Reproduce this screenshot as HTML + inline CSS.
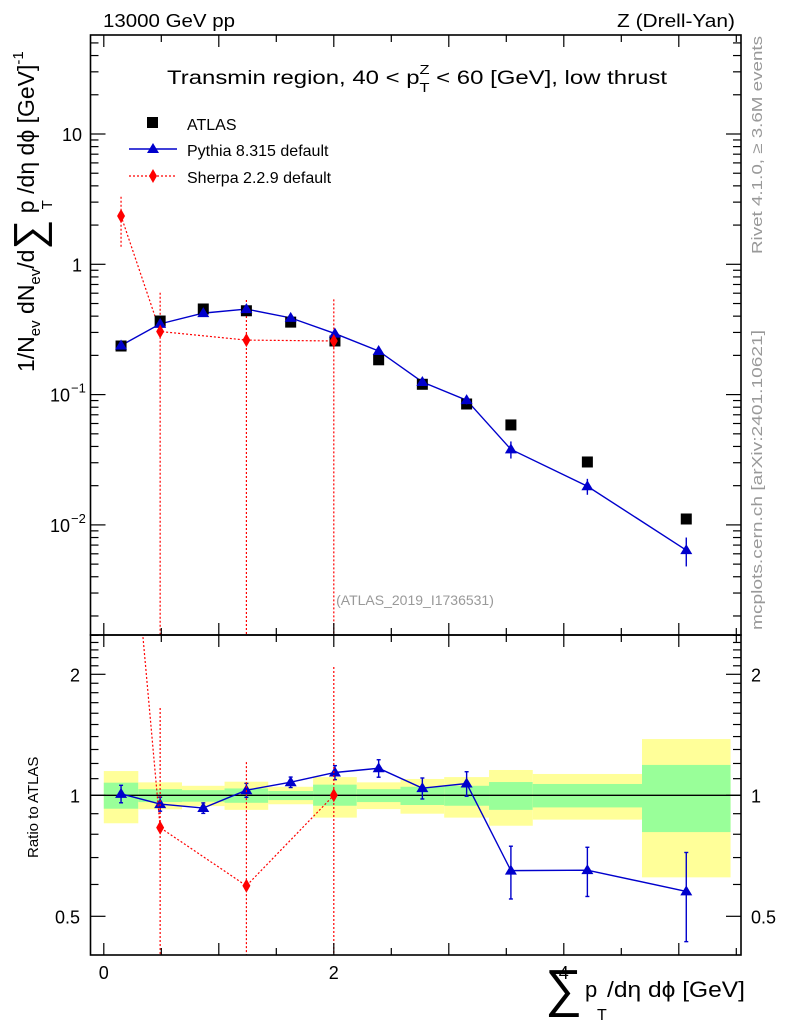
<!DOCTYPE html>
<html><head><meta charset="utf-8"><style>
html,body{margin:0;padding:0;background:#fff}
svg{display:block;font-family:"Liberation Sans",Arial,sans-serif}
</style></head><body>
<svg id="c" width="786" height="1024" viewBox="0 0 786 1024">
<g id="bands"></g>
<g id="marks"></g>
<g id="axes"></g>
<text x="103" y="27" font-size="18" textLength="132" lengthAdjust="spacingAndGlyphs">13000 GeV pp</text>
<text x="735" y="27" font-size="18" text-anchor="end" textLength="118" lengthAdjust="spacingAndGlyphs">Z (Drell-Yan)</text>
<text x="167" y="84" font-size="19" textLength="500" lengthAdjust="spacingAndGlyphs">Transmin region, 40 &lt; p<tspan font-size="13" dy="-10">Z</tspan><tspan font-size="13" dx="-8" dy="18">T</tspan><tspan dy="-8"> &lt; 60 [GeV], low thrust</tspan></text>
<text x="415" y="605" font-size="14" fill="#999" text-anchor="middle">(ATLAS_2019_I1736531)</text>
<text transform="translate(762,254) rotate(-90)" font-size="15" fill="#999" textLength="218" lengthAdjust="spacingAndGlyphs">Rivet 4.1.0, ≥ 3.6M events</text>
<text transform="translate(762,630) rotate(-90)" font-size="15" fill="#999" textLength="300" lengthAdjust="spacingAndGlyphs">mcplots.cern.ch [arXiv:2401.10621]</text>
<g transform="translate(34,372) rotate(-90)" font-size="23">
<text x="0" y="0">1/N<tspan font-size="15" dy="6">ev</tspan><tspan dy="-6"> dN</tspan><tspan font-size="15" dy="6">ev</tspan><tspan dy="-6">/d</tspan><tspan font-size="42" dy="9">∑</tspan><tspan dy="-9"> p</tspan><tspan font-size="15" dx="-9" dy="18">T</tspan><tspan dy="-18"> /dη dϕ  [GeV]</tspan><tspan font-size="15" dy="-11">-1</tspan></text>
</g>
<text transform="translate(38,858) rotate(-90)" font-size="15">Ratio to ATLAS</text>
<g>
<text x="545" y="1006" font-size="52">∑</text>
<text x="585" y="997" font-size="22">p</text>
<text x="597" y="1020" font-size="16">T</text>
<text x="607" y="997" font-size="22" textLength="138" lengthAdjust="spacingAndGlyphs">/dη dϕ [GeV]</text>
</g>
<g font-size="16">
<rect x="147" y="117" width="11" height="11" fill="#000"/>
<text x="187" y="130">ATLAS</text>
<line x1="129" y1="149" x2="177" y2="149" stroke="#00c" stroke-width="1.5"/>
<polygon points="153,143 159,153 147,153" fill="#00c"/>
<text x="187" y="156">Pythia 8.315 default</text>
<line x1="129" y1="176" x2="177" y2="176" stroke="#f00" stroke-width="1.3" stroke-dasharray="2,2"/>
<polygon points="153,169 157,176 153,183 149,176" fill="#f00"/>
<text x="187" y="183">Sherpa 2.2.9 default</text>
</g>
</svg>
<script>
const binEdges=[0,0.3,0.68,1.05,1.43,1.82,2.2,2.58,2.96,3.35,3.73,4.68,5.45];
const atlasValues=[0.236,0.367,0.454,0.44,0.36,0.258,0.185,0.12,0.0847,0.0585,0.0304,0.0111];
const pythiaValues=[0.238,0.349,0.422,0.453,0.388,0.294,0.216,0.125,0.0906,0.038,0.0198,0.0064];
const pythiaRelErr=[0.05,0.04,0.03,0.04,0.03,0.04,0.05,0.06,0.07,0.15,0.14,0.25];
const sherpaX=[0.15,0.49,1.24,2.0];
const sherpaValues=[2.35,0.305,0.262,0.258];
const sherpaErrUp=[0.95,0.3,0.27,0.28];
const sherpaErrDn=[1.02,0.305,0.262,0.258];
const bandYellowUp=[1.149,1.077,1.056,1.081,1.05,1.11,1.077,1.098,1.11,1.156,1.13,1.38];
const bandYellowDn=[0.852,0.923,0.94,0.92,0.95,0.88,0.924,0.9,0.88,0.84,0.87,0.625];
const bandGreenUp=[1.075,1.036,1.03,1.04,1.025,1.063,1.036,1.05,1.056,1.079,1.067,1.19];
const bandGreenDn=[0.926,0.962,0.964,0.958,0.973,0.942,0.962,0.946,0.942,0.92,0.933,0.81];
const xTickLabels=[0,2,4];
const mainTickLabels=[10,1,0.1,0.01];
const ratioTickLabels=[2,1,0.5];

const NS='http://www.w3.org/2000/svg';
const L=90.5,R=741,T=35,MB=635,RB=955;
const xs=u=>103.8+115*u;
const ym=v=>134-130.3*(Math.log10(v)-1);
const yr=r=>795.3-121*Math.log2(r);
function mk(parent,tag,attrs){const e=document.createElementNS(NS,tag);for(const k in attrs)e.setAttribute(k,attrs[k]);parent.appendChild(e);return e;}
const bands=document.getElementById('bands'),marks=document.getElementById('marks'),axes=document.getElementById('axes');
const cl=v=>Math.max(T,Math.min(MB,v));
const clr=v=>Math.max(MB,Math.min(RB,v));

for(let i=0;i<atlasValues.length;i++){
  const x0=xs(binEdges[i]),x1=xs(binEdges[i+1]);
  let r=mk(bands,'rect',{x:x0,y:yr(bandYellowUp[i]),width:x1-x0,height:yr(bandYellowDn[i])-yr(bandYellowUp[i]),fill:'#ffff99'});
  
  
  r=mk(bands,'rect',{x:x0,y:yr(bandGreenUp[i]),width:x1-x0,height:yr(bandGreenDn[i])-yr(bandGreenUp[i]),fill:'#99ff99'});
  
  
}
mk(bands,'line',{x1:L,x2:R,y1:yr(1),y2:yr(1),stroke:'#000','stroke-width':1.3});

const centers=atlasValues.map((v,i)=>(binEdges[i]+binEdges[i+1])/2);
let d='';
centers.forEach((c,i)=>{d+=(i?'L':'M')+xs(c)+','+ym(pythiaValues[i]);});
mk(marks,'path',{d:d,fill:'none',stroke:'#00c','stroke-width':1.4});
d='';
sherpaX.forEach((c,i)=>{d+=(i?'L':'M')+xs(c)+','+ym(sherpaValues[i]);});
mk(marks,'path',{d:d,fill:'none',stroke:'#f00','stroke-width':1.2,'stroke-dasharray':'2,2'});
sherpaX.forEach((c,i)=>{
  const lo=sherpaValues[i]-sherpaErrDn[i];
  const y2=lo>0?cl(ym(lo)):MB;
  mk(marks,'line',{x1:xs(c),x2:xs(c),y1:cl(ym(sherpaValues[i]+sherpaErrUp[i])),y2:y2,stroke:'#f00','stroke-width':1.2,'stroke-dasharray':'2,2'});
});
atlasValues.forEach((v,i)=>{
  const s=mk(marks,'rect',{x:xs(centers[i])-5.5,y:ym(v)-5.5,width:11,height:11,fill:'#000'});
  
  
});
pythiaValues.forEach((v,i)=>{
  const x=xs(centers[i]);
  mk(marks,'line',{x1:x,x2:x,y1:ym(v*(1+pythiaRelErr[i])),y2:ym(v*(1-pythiaRelErr[i])),stroke:'#00c','stroke-width':1.4});
  const y=ym(v);
  const p=mk(marks,'polygon',{points:`${x},${y-6} ${x+6},${y+4} ${x-6},${y+4}`,fill:'#00c'});
  
  
});
sherpaX.forEach((c,i)=>{
  const x=xs(c),y=ym(sherpaValues[i]);
  const p=mk(marks,'polygon',{points:`${x},${y-7} ${x+4},${y} ${x},${y+7} ${x-4},${y}`,fill:'#f00'});
  
  
});
d='';
centers.forEach((c,i)=>{d+=(i?'L':'M')+xs(c)+','+yr(pythiaValues[i]/atlasValues[i]);});
mk(marks,'path',{d:d,fill:'none',stroke:'#00c','stroke-width':1.4});
pythiaValues.forEach((v,i)=>{
  const x=xs(centers[i]),r=v/atlasValues[i];
  mk(marks,'line',{x1:x,x2:x,y1:yr(r*(1+pythiaRelErr[i])),y2:yr(r*(1-pythiaRelErr[i])),stroke:'#00c','stroke-width':1.4});
  mk(marks,'line',{x1:x-2,x2:x+2,y1:yr(r*(1+pythiaRelErr[i])),y2:yr(r*(1+pythiaRelErr[i])),stroke:'#00c','stroke-width':1.4});
  mk(marks,'line',{x1:x-2,x2:x+2,y1:yr(r*(1-pythiaRelErr[i])),y2:yr(r*(1-pythiaRelErr[i])),stroke:'#00c','stroke-width':1.4});
  const y=yr(r);
  const p=mk(marks,'polygon',{points:`${x},${y-6} ${x+6},${y+4} ${x-6},${y+4}`,fill:'#00c'});
  
  
});
const sIdx=sherpaX.map(c=>centers.findIndex(cc=>Math.abs(cc-c)<0.05));
const cp=mk(document.getElementById('c'),'clipPath',{id:'rclip'});
mk(cp,'rect',{x:L,y:MB,width:R-L,height:RB-MB});
const sg=mk(marks,'g',{'clip-path':'url(#rclip)'});
d='';
sherpaX.forEach((c,i)=>{d+=(i?'L':'M')+xs(c)+','+yr(sherpaValues[i]/atlasValues[sIdx[i]]);});
mk(sg,'path',{d:d,fill:'none',stroke:'#f00','stroke-width':1.2,'stroke-dasharray':'2,2'});
sherpaX.forEach((c,i)=>{
  const a=atlasValues[sIdx[i]],lo=sherpaValues[i]-sherpaErrDn[i];
  mk(sg,'line',{x1:xs(c),x2:xs(c),y1:clr(yr((sherpaValues[i]+sherpaErrUp[i])/a)),y2:lo>0?clr(yr(lo/a)):RB,stroke:'#f00','stroke-width':1.2,'stroke-dasharray':'2,2'});
  const x=xs(c),y=yr(sherpaValues[i]/a);
  const p=mk(sg,'polygon',{points:`${x},${y-7} ${x+4},${y} ${x},${y+7} ${x-4},${y}`,fill:'#f00'});
  
  
});

mk(axes,'rect',{x:L,y:T,width:R-L,height:MB-T,fill:'none',stroke:'#000','stroke-width':1.6});
mk(axes,'rect',{x:L,y:MB,width:R-L,height:RB-MB,fill:'none',stroke:'#000','stroke-width':1.6});
for(let k=0;k<=11;k++){
  const u=k*0.5,x=xs(u),len=(k%2===0)?12:7;
  [[T,1],[MB,-1],[MB,1],[RB,-1]].forEach(([y,s])=>mk(axes,'line',{x1:x,x2:x,y1:y,y2:y+s*len,stroke:'#000','stroke-width':1.2}));
}
xTickLabels.forEach(v=>{
  const t=mk(axes,'text',{x:xs(v),y:979,'font-size':18,'text-anchor':'middle'});
  t.textContent=v;
  
  
});
for(let e=-3;e<=1;e++){
  for(let m=1;m<=9;m++){
    const v=m*Math.pow(10,e),y=ym(v);
    if(y<T||y>MB)continue;
    const len=m===1?15:8;
    mk(axes,'line',{x1:L,x2:L+len,y1:y,y2:y,stroke:'#000','stroke-width':1.2});
    mk(axes,'line',{x1:R,x2:R-len,y1:y,y2:y,stroke:'#000','stroke-width':1.2});
  }
}
mainTickLabels.forEach(v=>{
  const y=ym(v)+7;
  const t=mk(axes,'text',{x:82,y:y,'font-size':18,'text-anchor':'end'});
  
  
  if(v>=1){t.textContent=v;}
  else{const e=Math.round(Math.log10(v));t.setAttribute('x',70);t.textContent='10';
    const s=mk(axes,'text',{x:71,y:y-9,'font-size':13});s.textContent='\u2212'+(-e);}
});
[0.4,0.5,0.6,0.7,0.8,0.9,1,1.1,1.2,1.3,1.4,1.5,1.6,1.7,1.8,1.9,2,2.1,2.2,2.3,2.4,2.5].forEach(r=>{
  const y=yr(r);if(y<MB||y>RB)return;
  const major=[0.5,1,2].includes(r),len=major?15:8;
  mk(axes,'line',{x1:L,x2:L+len,y1:y,y2:y,stroke:'#000','stroke-width':1.2});
  mk(axes,'line',{x1:R,x2:R-len,y1:y,y2:y,stroke:'#000','stroke-width':1.2});
});
ratioTickLabels.forEach(r=>{
  const y=yr(r)+7;
  let t=mk(axes,'text',{x:80,y:y,'font-size':18,'text-anchor':'end'});t.textContent=r;
  
  
  t=mk(axes,'text',{x:751,y:y,'font-size':18});t.textContent=r;
  
  
});
</script>
</body></html>
